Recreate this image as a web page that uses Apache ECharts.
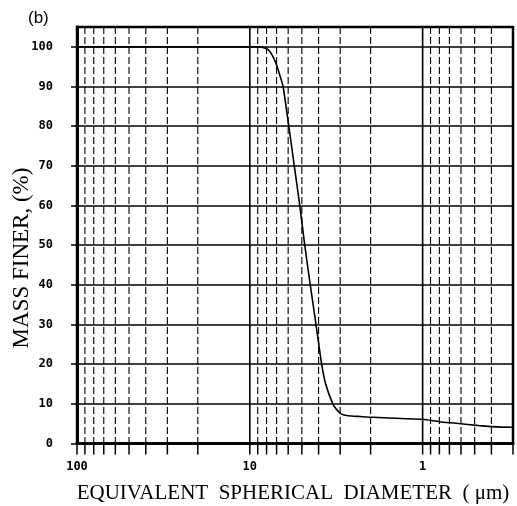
<!DOCTYPE html>
<html>
<head>
<meta charset="utf-8">
<script src="https://cdn.jsdelivr.net/npm/echarts@6/dist/echarts.min.js"></script>
<style>
html,body{margin:0;padding:0;background:#fff;}
#c{width:517px;height:506px;}
</style>
</head>
<body>
<div id="c"></div>
<script>
// Diameter (µm) vs mass finer (%)
const diameters = [100, 30, 10, 8.75, 7.9, 7.4, 7.0, 6.7, 6.42, 5.95, 5.53, 5.14, 4.81, 4.47, 4.14, 3.84, 3.64, 3.31, 3.15, 2.95, 2.7, 2.3, 1.95, 1.0, 0.8, 0.64, 0.47, 0.375, 0.3];
const massFiner = [100, 100, 100, 100, 99.4, 97.8, 95.4, 92.8, 90, 80, 70, 60, 50, 40, 30, 20, 15, 10, 8.6, 7.4, 7.0, 6.8, 6.6, 6.1, 5.5, 5.1, 4.5, 4.2, 4.1];
// vertical grid / tick positions on the log axis
const xTickValues = [100, 90, 80, 70, 60, 50, 40, 30, 20, 10, 9, 8, 7, 6, 5, 4, 3, 2, 1, 0.9, 0.8, 0.7, 0.6, 0.5, 0.4, 0.3];
const majorTicks = [100, 10, 1];
const yTickLabels = ['0', '10', '20', '30', '40', '50', '60', '70', '80', '90', '100'];

const chart = echarts.init(document.getElementById('c'), null, {renderer: 'canvas'});

const option = {
  backgroundColor: '#fff',
  animation: false,
  grid: {left: 77, right: 4, top: 27, bottom: 62.5, show: true, borderColor: '#000', borderWidth: 2.5, backgroundColor: 'transparent'},
  xAxis: {
    type: 'log', logBase: 10, inverse: true, min: 0.3, max: 100,
    axisLine: {show: true, lineStyle: {color: '#000', width: 3}},
    axisTick: {show: false},
    splitLine: {show: false},
    minorTick: {show: false},
    axisLabel: {
      show: true, margin: 17, color: '#000', fontFamily: '"DejaVu Sans Mono", monospace', fontWeight: 'bold', fontSize: 12,
      showMinLabel: false,
      formatter: v => (majorTicks.indexOf(Math.round(v * 1000) / 1000) >= 0 ? String(Math.round(v)) : '')
    }
  },
  yAxis: {
    type: 'value', min: 0, max: 105, interval: 10,
    axisLine: {show: true, lineStyle: {color: '#000', width: 3}},
    axisTick: {show: true, length: 6, lineStyle: {color: '#000', width: 1.5}},
    axisLabel: {
      margin: 24, color: '#000', fontFamily: '"DejaVu Sans Mono", monospace', fontWeight: 'bold', fontSize: 12,
      showMaxLabel: false,
      formatter: v => { const i = Math.round(v / 10); return (v % 10 === 0 && yTickLabels[i] !== undefined) ? yTickLabels[i] : ''; }
    },
    splitLine: {show: true, lineStyle: {color: '#000', width: 1.5}}
  },
  graphic: [
    {type: 'text', left: 28, top: 10, style: {text: '(b)', font: '17px "Liberation Sans", Arial, sans-serif', fill: '#000'}},
    {type: 'text', x: 293, y: 493, style: {text: 'EQUIVALENT  SPHERICAL  DIAMETER  ( \u03bcm)', font: '21px "Liberation Serif", "Times New Roman", serif', fill: '#000', align: 'center', verticalAlign: 'middle'}},
    {type: 'text', x: 22, y: 258, rotation: Math.PI / 2, style: {text: 'MASS FINER, (%)', font: '23px "Liberation Serif", "Times New Roman", serif', fill: '#000', align: 'center', verticalAlign: 'middle'}}
  ],
  series: [
    {
      type: 'custom',
      clip: false,
      silent: true,
      data: xTickValues.map(v => [v, 0]),
      renderItem: function (params, api) {
        const v = api.value(0);
        const bot = api.coord([v, 0]);
        const top = api.coord([v, 105]);
        const major = majorTicks.indexOf(v) >= 0;
        return {
          type: 'group',
          children: [
            {type: 'line', shape: {x1: bot[0], y1: top[1], x2: bot[0], y2: bot[1]},
              style: {stroke: '#000', lineWidth: major ? 1.6 : 1.1, lineDash: major ? null : [7, 3]}},
            {type: 'line', shape: {x1: bot[0], y1: bot[1], x2: bot[0], y2: bot[1] + 11},
              style: {stroke: '#000', lineWidth: 1.5}}
          ]
        };
      },
      z: 1
    },
    {
      type: 'line',
      data: diameters.map((d, i) => [d, massFiner[i]]),
      showSymbol: false,
      smooth: 0.2,
      lineStyle: {color: '#000', width: 1.6},
      z: 3
    }
  ]
};
chart.setOption(option);
</script>
</body>
</html>
